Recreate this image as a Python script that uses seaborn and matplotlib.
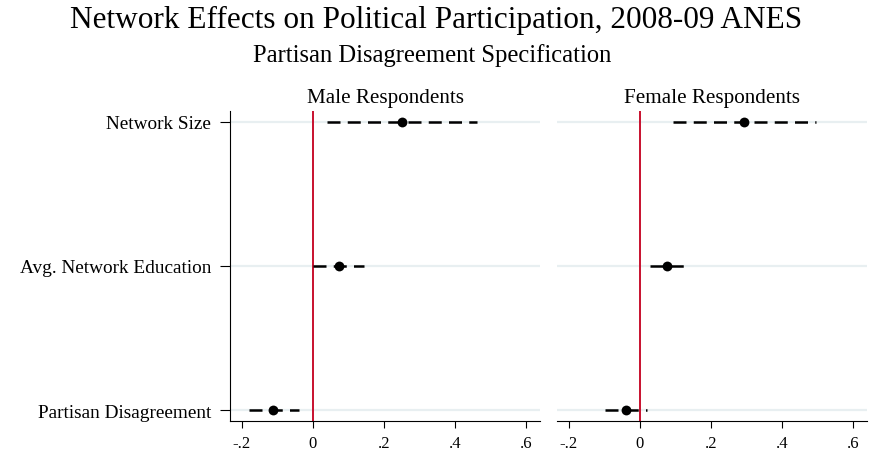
import pandas as pd
import seaborn as sns
import matplotlib.pyplot as plt

sns.set_theme(style="white")
plt.rcParams['font.family'] = ['Liberation Serif', 'DejaVu Serif']
plt.rcParams['text.color'] = 'black'
plt.rcParams['xtick.color'] = 'black'
plt.rcParams['ytick.color'] = 'black'

variables = ["Network Size", "Avg. Network Education", "Partisan Disagreement"]
panels = ["Male Respondents", "Female Respondents"]

male_coef = [0.25, 0.073, -0.112]
male_lo = [0.039, 0.0, -0.18]
male_hi = [0.46, 0.143, -0.039]

female_coef = [0.292, 0.076, -0.039]
female_lo = [0.093, 0.028, -0.098]
female_hi = [0.494, 0.124, 0.02]

xticks = [-0.2, 0, 0.2, 0.4, 0.6]
xticklabels = ["-.2", "0", ".2", ".4", ".6"]

df = pd.DataFrame({
    "panel": [panels[0]] * 3 + [panels[1]] * 3,
    "var": variables * 2,
    "coef": male_coef + female_coef,
    "lo": male_lo + female_lo,
    "hi": male_hi + female_hi,
})

XLIM = (-0.233, 0.638)
RED = "#c8102e"
GUIDE = "#e8eff1"

fig = plt.figure(figsize=(8.7, 4.56), dpi=100)
ax_m = fig.add_axes([0.2644, 0.0746, 0.3563, 0.680])
ax_f = fig.add_axes([0.6402, 0.0746, 0.3563, 0.680], sharey=ax_m)


def fit_width(txt, target_px):
    # scale a text object's font so it spans roughly target_px
    r = fig.canvas.get_renderer()
    w = txt.get_window_extent(r).width
    txt.set_fontsize(txt.get_fontsize() * target_px / w)
    return txt.get_fontsize()


for ax, name in zip([ax_m, ax_f], panels):
    sub = df[df["panel"] == name]
    ax.hlines(sub["var"], XLIM[0], XLIM[1], color=GUIDE, lw=1.6, zorder=0)
    ax.axvline(0, color=RED, lw=1.4, zorder=1)
    ax.hlines(sub["var"], sub["lo"], sub["hi"], color="black", lw=1.8,
              linestyles=(0, (5.2, 2.9)), zorder=2)
    sns.scatterplot(data=sub, x="coef", y="var", ax=ax, color="black", s=50,
                    edgecolor="black", linewidth=0, zorder=3)
    ax.set_xlim(*XLIM)
    ax.set_ylim(2.076, -0.076)
    ax.set_xticks(xticks)
    ax.set_xticklabels(xticklabels)
    ax.set_xlabel("")
    ax.set_ylabel("")
    ax.set_title(name, fontsize=12, pad=6.5)
    ax.tick_params(axis="x", direction="out", length=5, width=0.8,
                   bottom=True, pad=5, labelsize=12)
    for s in ["top", "right", "left"]:
        ax.spines[s].set_visible(False)
    ax.spines["bottom"].set_color("black")
    ax.spines["bottom"].set_linewidth(0.8)
    ax.grid(False)

ax_m.spines["left"].set_visible(True)
ax_m.spines["left"].set_color("black")
ax_m.spines["left"].set_linewidth(0.8)
ax_m.tick_params(axis="y", direction="out", length=7, width=0.8,
                 left=True, pad=6.5, labelsize=12)
ax_f.tick_params(axis="y", left=False, labelleft=False)

title = fig.text(0.501, 1 - 28 / 456,
                 "Network Effects on Political Participation, 2008-09 ANES",
                 ha="center", va="baseline", fontsize=20)
subtitle = fig.text(0.497, 1 - 62 / 456, "Partisan Disagreement Specification",
                    ha="center", va="baseline", fontsize=15)

# size texts to the widths measured on the reference
fig.canvas.draw()
fit_width(title, 732)
fit_width(subtitle, 361)
fit_width(ax_m.title, 156)
ax_f.title.set_fontsize(ax_m.title.get_fontsize())
ylabs = ax_m.get_yticklabels()
size = fit_width(ylabs[2], 173)
ax_m.tick_params(axis="y", labelsize=size)

fig.savefig("out.png", dpi=100)
